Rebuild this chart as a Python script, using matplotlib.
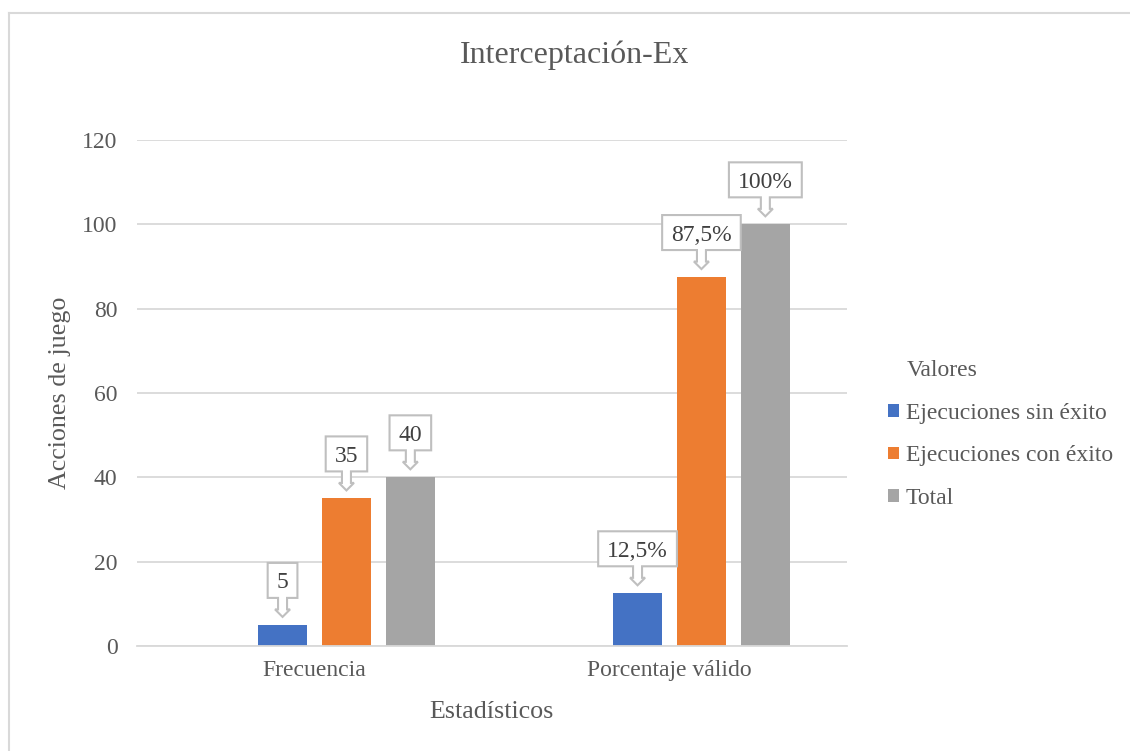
import matplotlib.pyplot as plt
import numpy as np
import matplotlib.transforms as mtransforms
from matplotlib.patches import Polygon, Patch
from matplotlib.lines import Line2D

plt.rcParams['font.family'] = ['Liberation Serif', 'DejaVu Serif']

categorias = ['Frecuencia', 'Porcentaje válido']
series = ['Ejecuciones sin éxito', 'Ejecuciones con éxito', 'Total']
sin_exito = [5, 12.5]
con_exito = [35, 87.5]
total = [40, 100]
etiquetas_sin = ['5', '12,5%']
etiquetas_con = ['35', '87,5%']
etiquetas_total = ['40', '100%']
colores = ['#4472C4', '#ED7D31', '#A5A5A5']

gris_texto = '#595959'
gris_linea = '#D9D9D9'

fig = plt.figure(figsize=(11.3, 7.51), dpi=100)
ax = fig.add_axes([137 / 1130, 1 - 646 / 751, 710 / 1130, 506 / 751])

x = np.arange(len(categorias))
paso = 0.18
ancho = 0.14
valores = [sin_exito, con_exito, total]
etiquetas = [etiquetas_sin, etiquetas_con, etiquetas_total]
for i in range(len(series)):
    ax.bar(x + (i - 0.5) * paso, valores[i], width=ancho, color=colores[i],
           label=series[i], zorder=2)

ax.set_xlim(-0.5, 1.5)
ax.set_ylim(0, 120)
ax.set_yticks(range(0, 121, 20))
ax.set_xticks(x)
ax.set_xticklabels(categorias)
ax.tick_params(axis='both', length=0, labelsize=17, labelcolor=gris_texto)
ax.tick_params(axis='y', pad=14)
ax.tick_params(axis='x', pad=10)
ax.yaxis.grid(True, color=gris_linea, lw=1.3, zorder=0)
ax.set_axisbelow(True)
for lado in ['left', 'right', 'top']:
    ax.spines[lado].set_visible(False)
ax.spines['bottom'].set_color(gris_linea)
ax.spines['bottom'].set_linewidth(1.3)

# globos de datos (callout con flecha hacia abajo)
renderer = fig.canvas.get_renderer()


def globo(xc, yv, texto):
    tr = fig.dpi_scale_trans + mtransforms.ScaledTranslation(xc, yv, ax.transData)
    t = ax.text(0, 0.365, texto, transform=tr, ha='center', va='baseline',
                fontsize=17, color='#404040', zorder=5)
    w = t.get_window_extent(renderer).width / fig.dpi
    bw = w / 2 + 0.09
    pts = [(-0.045, 0.27), (-bw, 0.27), (-bw, 0.62), (bw, 0.62), (bw, 0.27),
           (0.045, 0.27), (0.045, 0.155), (0.075, 0.155), (0, 0.08),
           (-0.075, 0.155), (-0.045, 0.155)]
    ax.add_patch(Polygon(pts, closed=True, transform=tr, facecolor='white',
                         edgecolor='#BFBFBF', lw=1.5, zorder=4, clip_on=False))


for i in range(len(series)):
    for j in range(len(categorias)):
        globo(x[j] + (i - 0.5) * paso, valores[i][j], etiquetas[i][j])

fig.text(575 / 1130, 1 - 55 / 751, 'Interceptación-Ex', fontsize=23,
         color=gris_texto, ha='center', va='center')
fig.text(60 / 1130, 1 - 393 / 751, 'Acciones de juego', fontsize=18.7,
         color=gris_texto, ha='center', va='center', rotation=90)
fig.text(492 / 1130, 1 - 712 / 751, 'Estadísticos', fontsize=18.7,
         color=gris_texto, ha='center', va='center')

fig.text(907 / 1130, 1 - 371 / 751, 'Valores', fontsize=17,
         color=gris_texto, ha='left', va='center')
manejadores = [Patch(facecolor=c) for c in colores]
fig.legend(manejadores, series, loc='center left',
           bbox_to_anchor=(888 / 1130, 1 - 456 / 751), frameon=False,
           fontsize=17, labelcolor=gris_texto, handlelength=0.45,
           handleheight=0.45, handletextpad=0.3, labelspacing=0.9,
           borderpad=0, borderaxespad=0)

# borde del área del gráfico
fig.add_artist(Line2D([9 / 1130, 9 / 1130], [0, 1 - 13 / 751],
                      transform=fig.transFigure, color=gris_linea, lw=1.5))
fig.add_artist(Line2D([9 / 1130, 1], [1 - 13 / 751, 1 - 13 / 751],
                      transform=fig.transFigure, color=gris_linea, lw=1.5))

fig.savefig('out.png', dpi=100)
